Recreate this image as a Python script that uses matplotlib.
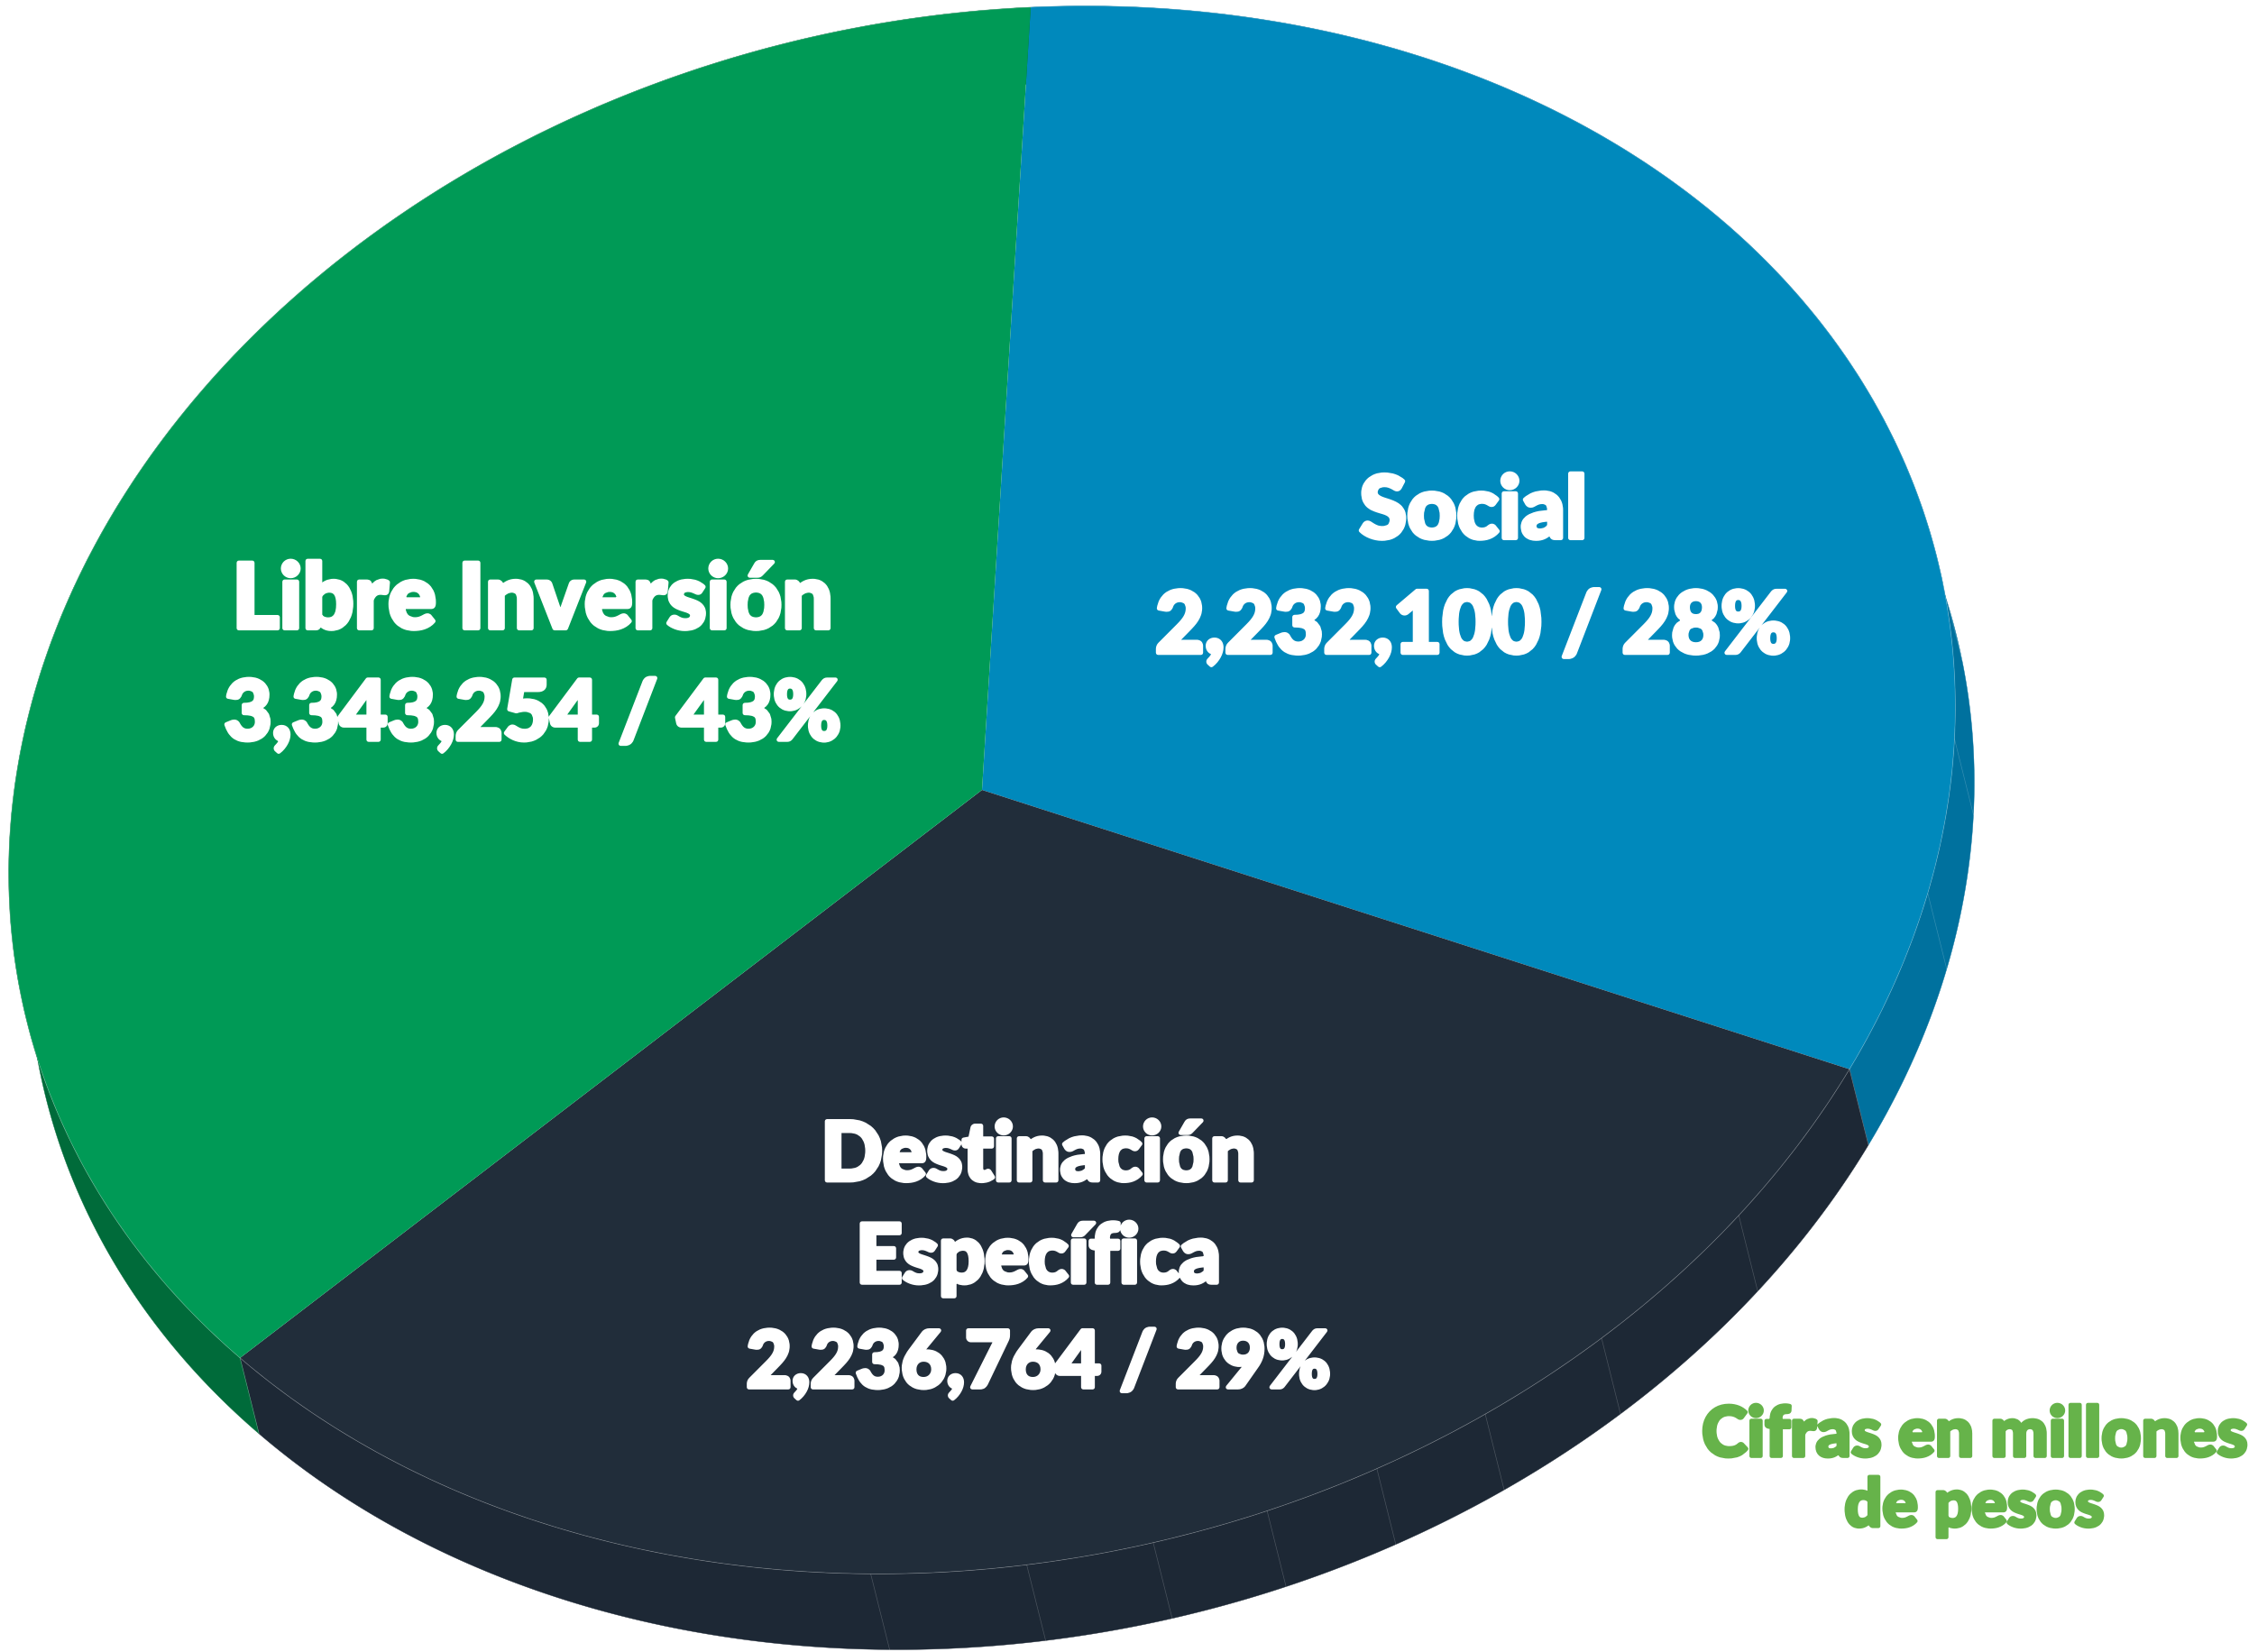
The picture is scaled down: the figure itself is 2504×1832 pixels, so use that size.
import numpy as np
import matplotlib
matplotlib.use("Agg")
import matplotlib.pyplot as plt
from matplotlib.transforms import Affine2D
import matplotlib.patheffects as pe

# Data as labelled in the chart
names = ["Social", "Destinación\nEspecífica", "Libre Inversión"]
amounts = [2232100, 2236764, 3343254]
percents = [28, 29, 43]
# Sweep of each slice as drawn in the picture (degrees, in the un-tilted disc)
drawn_sweep = [114.1, 112.7, 133.2]
top_colors = ["#0089BC", "#212D3A", "#009A56"]
wall_colors = ["#00719E", "#1D2835", "#006B3A"]
seam_angles = [12, 0.5, -10.8, -36.1, -47.6, -56, -63.2, -70.1, -77, -84.5, -93.7]
note_lines = ["Cifras en millones", "de pesos"]
note_color = "#66B34A"

W, H = 2504, 1833
fig = plt.figure(figsize=(W / 100, H / 100), dpi=100)
ax = fig.add_axes([0, 0, 1, 1])

# Tilted disc: unit circle -> canvas pixels
a, b, c, d, cx, cy = 1078, -49, 54, -868, 1089, 877
disc = Affine2D.from_values(a, b, c, d, cx, cy)
dx, dy = 21, 84


def rim(deg):
    t = np.radians(deg)
    return disc.transform(np.column_stack([np.cos(t), np.sin(t)]))


wedges, _ = ax.pie(drawn_sweep, colors=top_colors, startangle=90, counterclock=False,
                   wedgeprops=dict(linewidth=0))
ax.set_aspect("auto")
ax.set_xlim(0, W)
ax.set_ylim(H, 0)
ax.axis("off")

for w, wc in zip(wedges, wall_colors):
    w.set_transform(disc + ax.transData)
    w.set_zorder(3)
    ts = np.linspace(w.theta1, w.theta2, 300)
    top = rim(ts)
    low = top + [dx, dy]
    poly = np.vstack([top, low[::-1]])
    ax.fill(poly[:, 0], poly[:, 1], color=wc, lw=0.3, zorder=1)
    ax.plot(top[:, 0], top[:, 1], color="#FFFFFF", lw=0.5, alpha=0.28, zorder=4)

for ang in seam_angles:
    p = rim(np.array([ang]))[0]
    ax.plot([p[0], p[0] + dx], [p[1], p[1] + dy], color="#FFFFFF", lw=0.5, alpha=0.2, zorder=2)

# Corner seams where slices meet on the wall
for w in wedges[:2]:
    p = rim(np.array([w.theta1]))[0]
    ax.plot([p[0], p[0] + dx], [p[1], p[1] + dy], color="#FFFFFF", lw=0.5, alpha=0.25, zorder=2)

font = dict(family="Lato", weight="black", ha="center", va="center", zorder=6)
stroke_w = [pe.withStroke(linewidth=3.5, foreground="white")]
stroke_g = [pe.withStroke(linewidth=3, foreground=note_color)]


def value_label(i):
    return f"{amounts[i]:,} / {percents[i]}%"


scale = 2504 / 1568
l1, l2 = names[1].split("\n")
label_rows = [
    (names[0], 1023, 357, 69),
    (value_label(0), 1023, 437, 68),
    (l1, 721, 804, 65),
    (l2, 721, 875, 65),
    (value_label(1), 721, 948, 62.5),
    (names[2], 370, 419, 72),
    (value_label(2), 370, 498, 66),
]
for txt, x, y, fs in label_rows:
    ax.text(x * scale, y * scale, txt, fontsize=fs, color="white", path_effects=stroke_w, **font)
ax.text(1371 * scale, 998 * scale, note_lines[0], fontsize=55, color=note_color, path_effects=stroke_g, **font)
ax.text(1371 * scale, 1047 * scale, note_lines[1], fontsize=53, color=note_color, path_effects=stroke_g, **font)

fig.savefig("out.png", dpi=100, facecolor="white")
